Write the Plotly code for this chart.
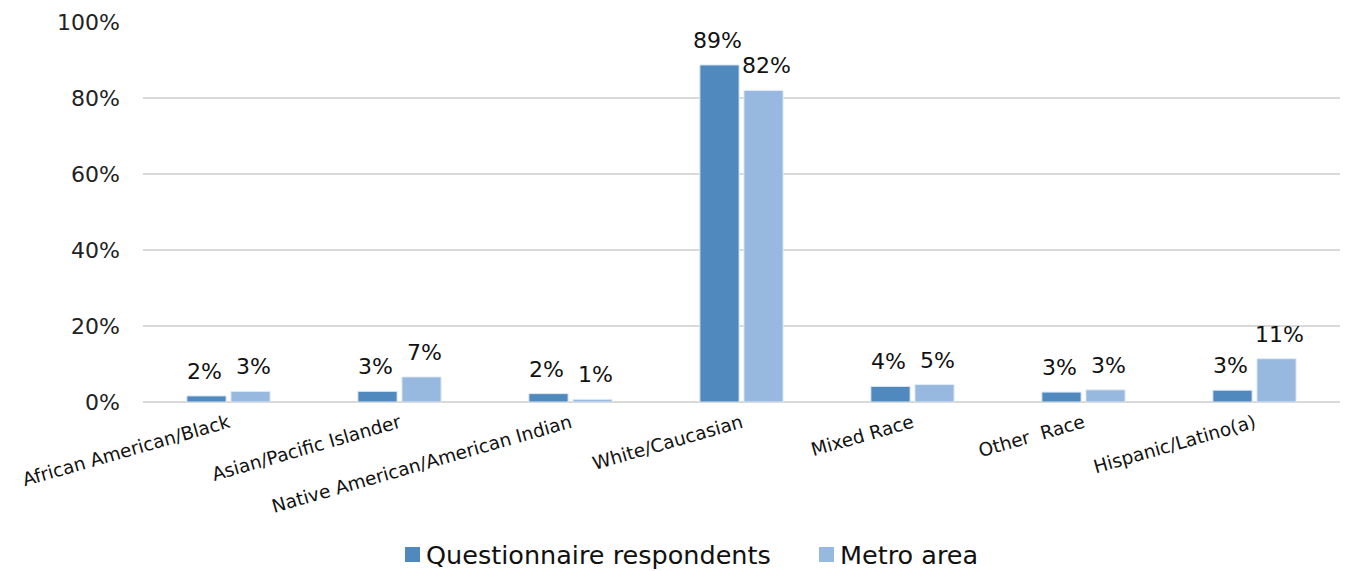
import plotly.graph_objects as go

# Race / ethnicity shares: questionnaire respondents vs. metro area population
categories = [
    "African American/Black",
    "Asian/Pacific Islander",
    "Native American/American Indian",
    "White/Caucasian",
    "Mixed Race",
    "Other  Race",
    "Hispanic/Latino(a)",
]
respondents = [0.016, 0.028, 0.022, 0.887, 0.041, 0.026, 0.031]
metro_area = [0.028, 0.066, 0.007, 0.820, 0.046, 0.032, 0.114]
series_names = ["Questionnaire respondents", "Metro area"]
y_ticks = [0, 0.2, 0.4, 0.6, 0.8, 1.0]

FONT = "Century Gothic, URW Gothic, DejaVu Sans, sans-serif"
DARK = "#4F89BD"
LIGHT = "#97B9DF"

W, H = 1348, 571
M_L, M_R, M_T, M_B = 143, 8, 22, 169
PLOT_W = W - M_L - M_R
PLOT_H = H - M_T - M_B


def paper_x(px):
    return (px - M_L) / PLOT_W


def paper_y(py):
    return (H - M_B - py) / PLOT_H


fig = go.Figure()
fig.add_trace(go.Bar(
    name=series_names[0], x=categories, y=respondents,
    marker=dict(color=DARK, line=dict(color="#DCE6F2", width=1)),
))
fig.add_trace(go.Bar(
    name=series_names[1], x=categories, y=metro_area,
    marker=dict(color=LIGHT, line=dict(color="#E4ECF6", width=1)),
))

# value labels above each bar
annotations = []
for series, dx in ((respondents, -24.5), (metro_area, 24.5)):
    for cat, val in zip(categories, series):
        annotations.append(dict(
            x=cat, y=val, xref="x", yref="y", xshift=dx, yshift=10,
            text=f"{val * 100:.0f}%", showarrow=False,
            yanchor="bottom", xanchor="center",
            font=dict(family=FONT, size=22, color="#111111"),
        ))

# legend row below the axis: colour key squares with the series names
shapes = []
for name, color, key_left in ((series_names[0], DARK, 405), (series_names[1], LIGHT, 819)):
    shapes.append(dict(
        type="rect", xref="paper", yref="paper",
        x0=paper_x(key_left), x1=paper_x(key_left + 15),
        y0=paper_y(562), y1=paper_y(547),
        fillcolor=color, line=dict(width=0),
    ))
    annotations.append(dict(
        x=paper_x(key_left + 19), y=paper_y(555), xref="paper", yref="paper",
        text=name, showarrow=False, xanchor="left", yanchor="middle",
        font=dict(family=FONT, size=25.5, color="#111111"),
    ))

fig.update_layout(
    width=W, height=H,
    margin=dict(l=M_L, r=M_R, t=M_T, b=M_B, autoexpand=False),
    paper_bgcolor="white", plot_bgcolor="white",
    barmode="group", bargap=0.485, bargroupgap=0.11,
    font=dict(family=FONT, color="#222222"),
    showlegend=False,
    annotations=annotations,
    shapes=shapes,
)
fig.update_yaxes(
    range=[0, 1.0], tickvals=y_ticks, tickformat=".0%",
    showgrid=True, gridcolor="#D9D9D9", gridwidth=1.5,
    zeroline=True, zerolinecolor="#D9D9D9", zerolinewidth=2,
    showline=False, ticks="", ticklabelstandoff=22,
    tickfont=dict(family=FONT, size=22, color="#222222"),
)
fig.update_xaxes(
    tickangle=-16, ticks="", showline=False, automargin=False,
    ticklabelstandoff=6,
    tickfont=dict(family=FONT, size=18.5, color="#111111"),
)

fig.write_html("out.html")
